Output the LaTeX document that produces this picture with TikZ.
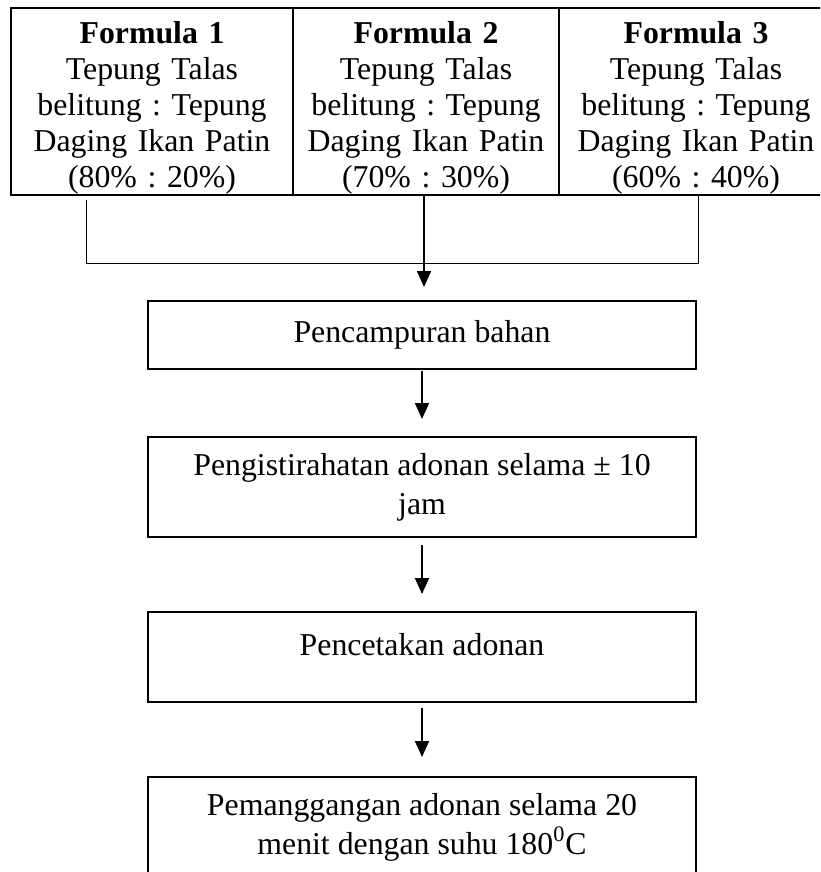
\documentclass[tikz,border=0pt]{standalone}
\usepackage{fontspec}
\setmainfont{Liberation Serif}
\usetikzlibrary{arrows.meta,positioning}
\frenchspacing

\begin{document}
\begin{tikzpicture}[
    x=0.5pt, y=-0.5pt,
    cell/.style={rectangle, draw, line width=1pt, inner xsep=0pt, inner ysep=0pt,
        outer sep=0pt, text width=#1, text height=18pt, minimum height=92.5pt,
        align=center, anchor=north west, font=\fontsize{15.9pt}{18pt}\selectfont},
    stepbox/.style={rectangle, draw, line width=1pt, minimum width=274pt,
        align=center, anchor=north, font=\fontsize{15.9pt}{19.5pt}\selectfont},
    link/.style={line width=0.5pt},
    flow/.style={line width=0.9pt, -{Triangle[length=8pt,width=7pt]}}]

\useasboundingbox (0,0) rectangle (820,872);
\clip (0,0) rectangle (820,872);

% formula table
\node (Formula1) [cell=141pt] at (11,8)
    {\textbf{Formula 1}\\Tepung Talas\\belitung : Tepung\\Daging Ikan Patin\\(80\% : 20\%)};
\node (Formula2) [cell=133pt, right=0pt of Formula1]
    {\textbf{Formula 2}\\Tepung Talas\\belitung : Tepung\\Daging Ikan Patin\\(70\% : 30\%)};
\node (Formula3) [cell=137pt, right=0pt of Formula2]
    {\textbf{Formula 3}\\Tepung Talas\\belitung : Tepung\\Daging Ikan Patin\\(60\% : 40\%)};

% process steps
\node (Mix) [stepbox, minimum height=34pt] at (422,300) {Pencampuran bahan};
\node (Rest) [stepbox, minimum height=50pt, below=33pt of Mix]
    {Pengistirahatan adonan selama ± 10\\jam};
\node (Mold) [stepbox, minimum height=45pt, text depth=12.5pt, below=36.5pt of Rest]
    {Pencetakan adonan};
\node (Bake) [stepbox, minimum height=50pt, below=36.5pt of Mold]
    {Pemanggangan adonan selama 20\\menit dengan suhu 180\textsuperscript{0}C};

% joining line
\coordinate (JoinL) at (86,263);
\coordinate (JoinR) at (698,263);
\coordinate (Drop) at (424,0);
\draw[link, shorten <=2.5pt] (Formula1.south -| JoinL) -- (JoinL) -- (JoinR)
    -- (Formula3.south -| JoinR);

% arrows
\draw[flow, shorten >=6.5pt] (Formula2.south -| Drop) -- (Mix.north -| Drop);
\draw[flow, shorten <=0.5pt, shorten >=8.5pt] (Mix.south) -- (Rest.north);
\draw[flow, shorten <=3.5pt, shorten >=8.5pt] (Rest.south) -- (Mold.north);
\draw[flow, shorten <=2.5pt, shorten >=9.5pt] (Mold.south) -- (Bake.north);

\end{tikzpicture}
\end{document}
